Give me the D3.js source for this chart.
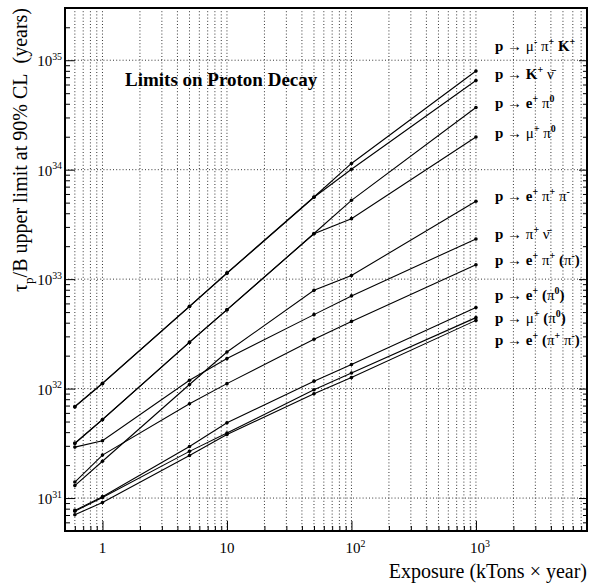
<!doctype html>
<html lang="en">
<head>
<meta charset="utf-8">
<script src="https://cdn.jsdelivr.net/npm/d3@7"></script>
<style>
body { margin: 0; background: #fff; }
text, tspan { font-family: "Liberation Serif", "Times New Roman", "DejaVu Serif", serif; fill: #000; }
.grid line { stroke: #000; stroke-width: 0.8; stroke-dasharray: 1 2.2; }
.tick line { stroke: #000; stroke-width: 1; }
.curve { fill: none; stroke: #000; stroke-width: 1.1; }
</style>
</head>
<body>
<svg id="chart" width="589" height="583" font-family="Liberation Serif, Times New Roman, serif"></svg>
<script>
//=============================== DATA ===================================
var exposure = [0.6, 1, 5, 10, 50, 100, 1000]   // kTons x year

var muPiK   = [6.87e31, 1.12e32, 5.64e32, 1.14e33, 5.63e33, 1.14e34, 7.98e34]
var kNu     = [6.80e31, 1.11e32, 5.62e32, 1.13e33, 5.60e33, 1.01e34, 6.52e34]
var ePi0    = [3.18e31, 5.22e31, 2.66e32, 5.26e32, 2.61e33, 5.25e33, 3.70e34]
var muPi0   = [3.15e31, 5.20e31, 2.64e32, 5.24e32, 2.60e33, 3.57e33, 1.99e34]
var ePiPi   = [1.30e31, 2.17e31, 1.09e32, 2.16e32, 7.90e32, 1.08e33, 5.14e33]
var piNu    = [2.92e31, 3.34e31, 1.19e32, 1.88e32, 4.74e32, 7.03e32, 2.33e33]
var ePiXPi  = [1.40e31, 2.47e31, 7.28e31, 1.11e32, 2.82e32, 4.11e32, 1.35e33]
var eXPi0   = [7.71e30, 1.03e31, 2.96e31, 4.88e31, 1.17e32, 1.66e32, 5.50e32]
var muXPi0  = [7.59e30, 1.01e31, 2.67e31, 3.92e31, 9.77e31, 1.39e32, 4.45e32]
var eXPiPi  = [7.03e30, 9.12e30, 2.45e31, 3.81e31, 8.98e31, 1.26e32, 4.20e32]

var series = [muPiK, kNu, ePi0, muPi0, ePiPi, piNu, ePiXPi, eXPi0, muXPi0, eXPiPi]
var channels = [
	'p → μ^{-} π^{+} K^{+}',
	'p → K^{+} ν\u0304',
	'p → e^{+} π^{0}',
	'p → μ^{+} π^{0}',
	'p → e^{+} π^{+} π^{-}',
	'p → π^{+} ν\u0304',
	'p → e^{+} π^{+} (π^{-})',
	'p → e^{+} (π^{0})',
	'p → μ^{+} (π^{0})',
	'p → e^{+} (π^{+} π^{-})'
]
var xTickLabels = ['1', '10', '10^{2}', '10^{3}']
var yTickLabels = ['10^{31}', '10^{32}', '10^{33}', '10^{34}', '10^{35}']

//=============================== LAYOUT =================================
var L = 65, R = 587, T = 8, B = 531
var labelBase = [51, 79, 108, 138, 201, 239, 265, 300, 323, 345]   // px, label baselines
var FONT = '"Liberation Serif", "Times New Roman", serif'

var x = d3.scaleLog().domain([0.5, 7800]).range([L, R])
var y = d3.scaleLog().domain([5e30, 3e35]).range([B, T])

var svg = d3.select('#chart')

// rich text: ^{..} superscript, _{..} subscript, greek / arrows kept regular weight
function rich(sel, str, size, bold) {
	var cur = 0
	sel.style('font-family', FONT)
	str.split(/(\^\{[^}]*\}|_\{[^}]*\})/).filter((s)=>s.length).forEach((p)=>{
		var m = p.match(/^([\^_])\{(.*)\}$/)
		if (m) {
			var target = m[1] == '^' ? -size * 0.42 : size * 0.28
			sel.append('tspan').attr('dy', target - cur).attr('font-size', size * 0.66)
				.attr('font-weight', bold ? 'bold' : 'normal').text(m[2])
			cur = target
			return
		}
		var runs = p.match(/[\u0370-\u03ff\u2190-\u21ff\u0304]+|[^\u0370-\u03ff\u2190-\u21ff\u0304]+/g)
		runs.forEach((r)=>{
			var t = sel.append('tspan').attr('font-size', size)
				.attr('font-weight', bold && !/[\u0370-\u03ff\u2190-\u21ff]/.test(r) ? 'bold' : 'normal')
				.text(r)
			if (cur) { t.attr('dy', -cur); cur = 0 }
		})
	})
}

//=============================== GRID ===================================
var xMinor = [], yMinor = []
;[-1, 0, 1, 2, 3].forEach((k)=>{
	for (var d = 2; d <= 9; d++) {
		var v = d * Math.pow(10, k)
		if (v > 0.5 && v < 7800) xMinor.push(v)
	}
})
;[30, 31, 32, 33, 34, 35].forEach((k)=>{
	for (var d = 2; d <= 9; d++) {
		var v = d * Math.pow(10, k)
		if (v > 5e30 && v < 3e35) yMinor.push(v)
	}
})
var xMajor = [1, 10, 100, 1000]
var yMajor = [1e31, 1e32, 1e33, 1e34, 1e35]

var grid = svg.append('g').attr('class', 'grid')
grid.selectAll('.gx').data(xMajor.concat(xMinor)).enter().append('line')
	.attr('x1', (d)=>x(d)).attr('x2', (d)=>x(d)).attr('y1', T).attr('y2', B)
grid.selectAll('.gy').data(yMajor).enter().append('line')
	.attr('y1', (d)=>y(d)).attr('y2', (d)=>y(d)).attr('x1', L).attr('x2', R)

//=============================== AXES ===================================
function ticks(axis, vals, size, tr) {
	var g = svg.append('g').attr('transform', tr)
		.call(axis.tickValues(vals).tickSize(size).tickFormat(''))
	g.select('.domain').remove()
}
ticks(d3.axisBottom(x), xMajor, -10, 'translate(0,' + B + ')')
ticks(d3.axisBottom(x), xMinor, -5, 'translate(0,' + B + ')')
ticks(d3.axisLeft(y), yMajor, -10, 'translate(' + L + ',0)')
ticks(d3.axisLeft(y), yMinor, -5, 'translate(' + L + ',0)')
ticks(d3.axisRight(y), yMajor, -8, 'translate(' + R + ',0)')
ticks(d3.axisRight(y), yMinor, -4, 'translate(' + R + ',0)')

svg.append('rect').attr('x', L).attr('y', T).attr('width', R - L).attr('height', B - T)
	.attr('fill', 'none').attr('stroke', '#000').attr('stroke-width', 2)

xMajor.forEach((v, i)=>{
	var t = svg.append('text').attr('x', x(v) + (i > 1 ? 4 : 0)).attr('y', 553)
		.attr('text-anchor', 'middle')
	rich(t, xTickLabels[i], 15, false)
})
yMajor.forEach((v, i)=>{
	var t = svg.append('text').attr('x', 62).attr('y', y(v) + 6).attr('text-anchor', 'end')
	rich(t, yTickLabels[i], 15, false)
})

svg.append('text').attr('x', R).attr('y', 578).attr('text-anchor', 'end')
	.style('font-family', FONT).attr('font-size', 20).text('Exposure (kTons × year)')
var yt = svg.append('text').attr('transform', 'translate(27,' + T + ') rotate(-90)')
	.attr('text-anchor', 'end')
rich(yt, 'τ_{p}/B upper limit at 90% CL\u00a0\u00a0(years)', 20, false)

svg.append('text').attr('x', 125).attr('y', 86).attr('font-size', 19)
	.style('font-family', FONT).attr('font-weight', 'bold').text('Limits on Proton Decay')

//=============================== CURVES =================================
var line = d3.line().x((d)=>x(d[0])).y((d)=>y(d[1]))
series.forEach((s, i)=>{
	var pts = exposure.map((e, j)=>[e, s[j]])
	svg.append('path').attr('class', 'curve').attr('d', line(pts))
	svg.selectAll('.m' + i).data(pts).enter().append('circle')
		.attr('cx', (d)=>x(d[0])).attr('cy', (d)=>y(d[1])).attr('r', 1.8).attr('fill', '#000')
	var t = svg.append('text').attr('x', 495).attr('y', labelBase[i])
	rich(t, channels[i], 15, true)
})
</script>
</body>
</html>
